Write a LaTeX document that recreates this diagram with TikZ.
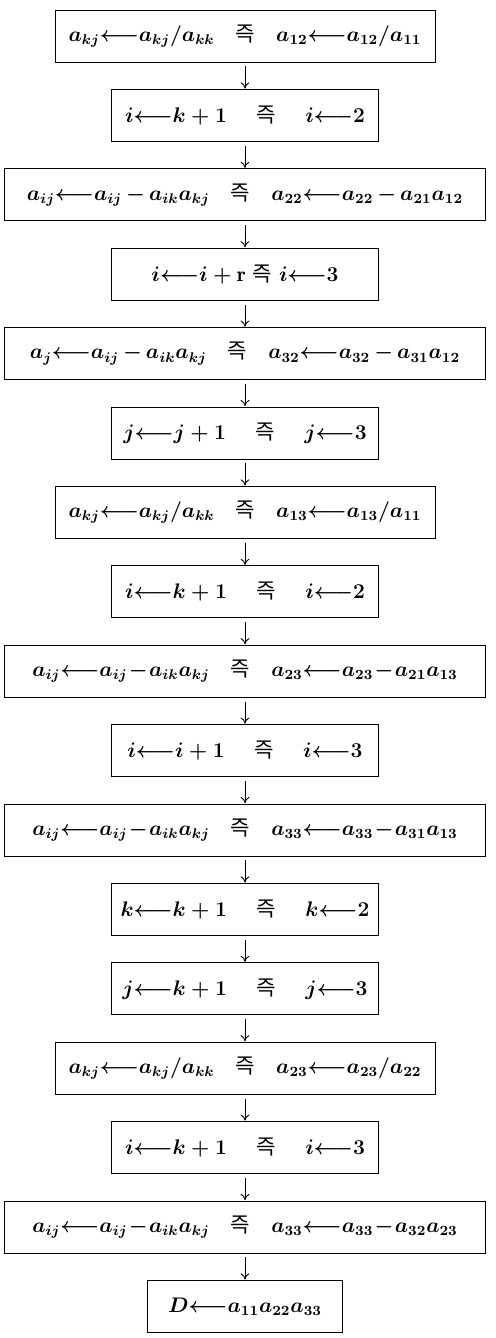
\documentclass[tikz,border=0pt]{standalone}
\usepackage{amsmath}
\usepackage{fontspec}
\newfontfamily\krfont{Noto Sans CJK KR}
\usepackage{tikz}
\usetikzlibrary{arrows.meta,positioning}

\newcommand{\jeuk}[1][\quad]{#1\text{\krfont 즉}#1}
\newcommand{\la}{{\longleftarrow}}
\newcommand{\jw}{\jeuk[\hskip1.4em]}

\begin{document}
\begin{tikzpicture}[
    stepbox/.style={rectangle, draw=black, line width=0.5pt,
                    minimum height=1.04cm, inner sep=0pt, outer sep=0pt,
                    align=center, font=\large\boldmath},
    shortbox/.style={stepbox, minimum width=5.35cm},
    midbox/.style={stepbox, minimum width=7.6cm},
    widebox/.style={stepbox, minimum width=9.62cm},
    arr/.style={-{To[length=3.5pt,width=5pt]}, line width=0.5pt,
                shorten <=2.5pt, shorten >=0.5pt},
    node distance=0.548cm,
]

%% --- page ---
\useasboundingbox (-4.9,0.72) rectangle (5.0,-26.04);

%% --- k = 1 ---
\node[midbox] (b1) at (0,0)
    {$a_{kj}\la a_{kj}/a_{kk}\jeuk a_{12}\la a_{12}/a_{11}$};
\node[shortbox, below=of b1] (b2)
    {$i\la k+1\jw i\la 2$};
\node[widebox, below=of b2] (b3)
    {$a_{ij}\la a_{ij}\,{-}\,a_{ik}a_{kj}\jeuk a_{22}\la a_{22}\,{-}\,a_{21}a_{12}$};
\node[shortbox, below=of b3] (b4)
    {$i\la i+\mathrm{r}\ \text{\krfont 즉}\ i\la 3$};
\node[widebox, below=of b4] (b5)
    {$a_{j}\la a_{ij}\,{-}\,a_{ik}a_{kj}\jeuk a_{32}\la a_{32}\,{-}\,a_{31}a_{12}$};
\node[shortbox, below=of b5] (b6)
    {$j\la j+1\jw j\la 3$};
\node[midbox, below=of b6] (b7)
    {$a_{kj}\la a_{kj}/a_{kk}\jeuk a_{13}\la a_{13}/a_{11}$};
\node[shortbox, below=of b7] (b8)
    {$i\la k+1\jw i\la 2$};
\node[widebox, below=of b8] (b9)
    {$a_{ij}\la a_{ij}\!-\!a_{ik}a_{kj}\jeuk a_{23}\la a_{23}\!-\!a_{21}a_{13}$};
\node[shortbox, below=of b9] (b10)
    {$i\la i+1\jw i\la 3$};
\node[widebox, below=of b10] (b11)
    {$a_{ij}\la a_{ij}\!-\!a_{ik}a_{kj}\jeuk a_{33}\la a_{33}\!-\!a_{31}a_{13}$};

%% --- k = 2 ---
\node[shortbox, below=of b11] (b12)
    {$k\la k+1\jw k\la 2$};
\node[shortbox, below=of b12] (b13)
    {$j\la k+1\jw j\la 3$};
\node[midbox, below=of b13] (b14)
    {$a_{kj}\la a_{kj}/a_{kk}\jeuk a_{23}\la a_{23}/a_{22}$};
\node[shortbox, below=of b14] (b15)
    {$i\la k+1\jw i\la 3$};
\node[widebox, below=of b15] (b16)
    {$a_{ij}\la a_{ij}\!-\!a_{ik}a_{kj}\jeuk a_{33}\la a_{33}\!-\!a_{32}a_{23}$};

%% --- result ---
\node[stepbox, minimum width=3.9cm, below=of b16] (b17)
    {$D\la a_{11}a_{22}a_{33}$};

%% --- flow ---
\foreach \a/\b in {b1/b2,b2/b3,b3/b4,b4/b5,b5/b6,b6/b7,b7/b8,b8/b9,
                   b9/b10,b10/b11,b11/b12,b12/b13,b13/b14,b14/b15,
                   b15/b16,b16/b17}
    \draw[arr] (\a) -- (\b);

\end{tikzpicture}
\end{document}
